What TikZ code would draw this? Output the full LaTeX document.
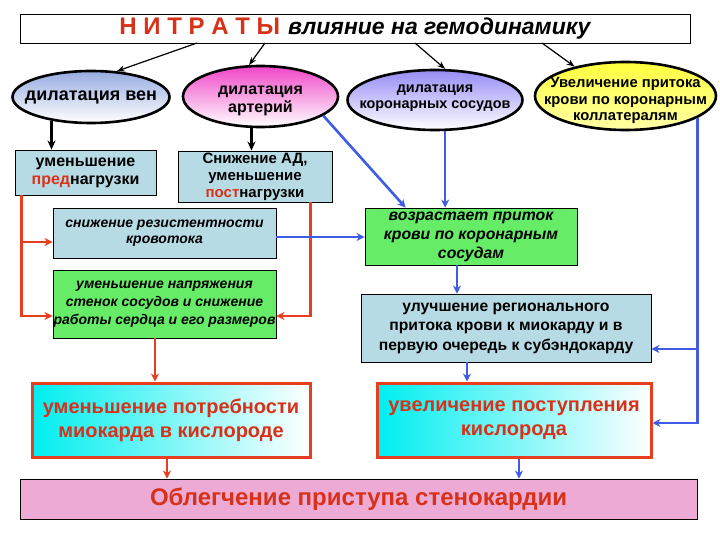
\documentclass[tikz,border=0pt]{standalone}
\usepackage{fontspec}
\setmainfont{Liberation Sans}
\usetikzlibrary{shapes.geometric,arrows.meta,calc}
\definecolor{boxblue}{RGB}{183,219,228}
\definecolor{boxgreen}{RGB}{102,236,102}
\definecolor{finpink}{RGB}{236,170,212}
\definecolor{redln}{RGB}{230,62,30}
\definecolor{blueln}{RGB}{62,92,230}
\definecolor{redtxt}{RGB}{215,50,25}
\definecolor{ellblue}{RGB}{150,172,225}
\definecolor{ellpink}{RGB}{240,70,200}
\definecolor{elllav}{RGB}{150,140,245}
\definecolor{ellyel}{RGB}{255,255,60}
\definecolor{cyanf}{RGB}{0,238,240}
\begin{document}
\begin{tikzpicture}[x=1pt,y=-1pt,
  ell/.style={ellipse,draw=black,line width=2.6pt,inner sep=0pt},
  elltext/.style={inner sep=0pt,align=center},
  bbox/.style={draw=black,line width=0.9pt,inner sep=0pt,align=center,font=\bfseries},
  rbox/.style={draw=redln,line width=3pt,inner sep=0pt,align=center,font=\bfseries\fontsize{20}{24}\selectfont,text=redtxt,left color=cyanf,right color=white},
  thinarr/.style={-{Stealth[length=8pt,width=6pt]},line width=1.2pt,black},
  blkarr/.style={-{Stealth[length=9pt,width=8pt]},line width=3pt,black},
  redarr/.style={-{Stealth[length=8pt,width=8pt]},line width=2.6pt,redln},
  bluearr/.style={-{Stealth[length=8pt,width=8pt]},line width=2.6pt,blueln}]
\useasboundingbox (0,0) rectangle (720,540);
\fill[white] (0,0) rectangle (720,540);

% title
\node[draw=black,line width=0.9pt,minimum width=670pt,minimum height=29pt,inner sep=0pt] (title) at (355,28.5)
  {{\fontsize{24}{26}\selectfont\bfseries\color{redtxt}Н И Т Р А Т Ы}\hspace{8pt}{\fontsize{23}{26}\selectfont\bfseries\itshape влияние на гемодинамику}};

% ellipses
\node[ell,minimum width=157pt,minimum height=52pt,top color=ellblue,bottom color=white] (e1) at (91,97) {};
\node[elltext,font=\bfseries\fontsize{18}{20}\selectfont] (e1t) at (e1.center) {дилатация вен};
\node[ell,minimum width=155pt,minimum height=61pt,top color=ellpink,bottom color=white] (e2) at (260.5,96.5) {};
\node[elltext,font=\bfseries\fontsize{16}{18}\selectfont] (e2t) at ([yshift=-4pt]e2.center) {дилатация\\артерий};
\node[ell,minimum width=175pt,minimum height=60pt,top color=elllav,bottom color=white] (e3) at (435,100) {};
\node[elltext,font=\bfseries\fontsize{14.4}{16}\selectfont] (e3t) at ([yshift=2pt]e3.center) {дилатация\\коронарных сосудов};
\node[ell,minimum width=181pt,minimum height=68pt,top color=ellyel,bottom color=ellyel!45!white] (e4) at (625.5,96) {};
\node[elltext,font=\bfseries\fontsize{14.8}{16.5}\selectfont] (e4t) at ([yshift=-4.5pt]e4.center) {Увеличение притока\\крови по коронарным\\коллатералям};

% boxes
\node[bbox,fill=boxblue,minimum width=141pt,minimum height=45pt,font=\bfseries\fontsize{16}{18}\selectfont] (b1) at (85.5,172.5) {уменьшение\\{\color{redtxt}пред}нагрузки};
\node[bbox,fill=boxblue,minimum width=154pt,minimum height=51pt,font=\bfseries\fontsize{15}{17}\selectfont] (b2) at (255,176.5) {Снижение АД,\\уменьшение\\{\color{redtxt}пост}нагрузки};
\node[bbox,fill=boxblue,minimum width=223pt,minimum height=50pt,font=\bfseries\itshape\fontsize{14}{16}\selectfont] (resist) at (164.5,233) {снижение резистентности\\кровотока};
\node[bbox,fill=boxgreen,minimum width=223pt,minimum height=68pt,font=\bfseries\itshape\fontsize{14}{18}\selectfont] (strain) at (164.5,304) {уменьшение напряжения\\стенок сосудов и снижение\\работы сердца и его размеров};
\node[bbox,fill=boxgreen,minimum width=212pt,minimum height=57pt,font=\bfseries\itshape\fontsize{15.8}{19}\selectfont] (coron) at (471,236.5) {возрастает приток\\крови по коронарным\\сосудам};
\node[bbox,fill=boxblue,minimum width=290pt,minimum height=68pt,font=\bfseries\fontsize{15.7}{19.5}\selectfont] (region) at (506,328) {улучшение регионального\\притока крови к миокарду и в\\первую очередь к субэндокарду};
\node[rbox,minimum width=278pt,minimum height=74pt] (demand) at (171,420) {уменьшение потребности\\миокарда в кислороде};
\node[rbox,minimum width=274pt,minimum height=74pt] (supply) at (514,420) {увеличение поступления\\кислорода};
\node[draw=black,line width=0.9pt,fill=finpink,minimum width=677pt,minimum height=40pt,inner sep=0pt,text=redtxt,font=\bfseries\fontsize{24}{28}\selectfont] (final) at (358.5,499) {Облегчение приступа стенокардии};

% title arrows
\coordinate (t1) at (197,43);
\coordinate (t2) at (265,43);
\coordinate (t3) at (415,43);
\coordinate (t4) at (542,43);
\draw[thinarr] (t1) -- (e1.45);
\draw[thinarr] (t2) -- (e2.110);
\draw[thinarr] (t3) -- (e3.72);
\draw[thinarr] (t4) -- (e4.150);

% black arrows
\draw[blkarr] (e1.211) -- (e1.211 |- b1.north);
\draw[blkarr] (e2.254) -- (e2.254 |- b2.north);

% red connectors
\coordinate (rL) at ([xshift=7pt]b1.south west);
\coordinate (resIn) at ([yshift=-9pt]resist.west);
\coordinate (strIn) at ([yshift=-12pt]strain.west);
\draw[redarr] (rL) |- (strIn);
\draw[redarr] (rL |- resIn) -- (resIn);
\coordinate (rR) at ([xshift=-22pt]b2.south east);
\coordinate (strInR) at ([yshift=-12pt]strain.east);
\draw[redarr] (rR) |- (strInR);
\coordinate (x155) at (155,0);
\coordinate (x167) at (167,0);
\draw[redarr] (strain.south -| x155) -- (demand.north -| x155);
\draw[redarr] (demand.south -| x167) -- (final.north -| x167);

% blue connectors
\draw[bluearr] (e2.343) -- ([xshift=41pt]coron.north west);
\draw[bluearr] (e3.288) -- (e3.288 |- coron.north);
\coordinate (resOut) at ([yshift=-4pt]resist.east);
\draw[bluearr] (resOut) -- (coron.west |- resOut);
\coordinate (x457) at (457,0);
\coordinate (x467) at (467,0);
\coordinate (x519) at (519,0);
\draw[bluearr] (coron.south -| x457) -- (region.north -| x457);
\draw[bluearr] (region.south -| x467) -- (supply.north -| x467);
\draw[bluearr] (supply.south -| x519) -- (final.north -| x519);
\coordinate (supIn) at ([yshift=-3pt]supply.east);
\coordinate (regIn) at ([yshift=-21pt]region.east);
\draw[bluearr] (e4.343) |- (supIn);
\draw[bluearr] (e4.343 |- regIn) -- (regIn);
\end{tikzpicture}
\end{document}
